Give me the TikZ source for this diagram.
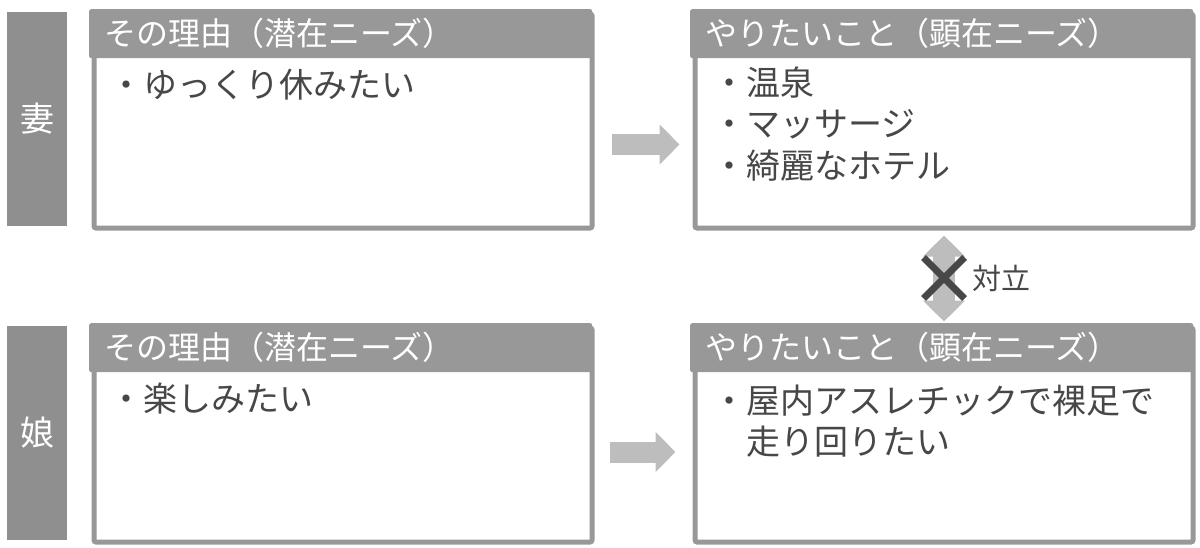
\documentclass[tikz,border=0pt]{standalone}
\usepackage{fontspec}
\setmainfont{Noto Sans CJK JP}
\usetikzlibrary{positioning, arrows.meta, shapes.misc, calc}
\definecolor{framegray}{HTML}{989898}
\definecolor{bargray}{HTML}{8F8F8F}
\definecolor{arrowgray}{HTML}{BDBDBD}
\definecolor{inkgray}{HTML}{474747}

\begin{document}
\begin{tikzpicture}[
    x=1pt, y=-1pt,
    panel/.style={draw=framegray, line width=5pt, fill=white, rounded corners=2pt,
        minimum width=498pt, minimum height=214pt, inner sep=0pt, anchor=north west},
    header/.style={fill=framegray, text=white, rounded corners=2pt, anchor=north west,
        minimum width=503pt, minimum height=49pt, inner xsep=15pt, inner ysep=0pt,
        text width=473pt, align=left, font=\fontsize{32}{38}\selectfont},
    needs/.style={anchor=base west, inner sep=0pt, text=inkgray, text width=470pt,
        align=left, font=\fontsize{34}{41.5}\selectfont},
    person/.style={fill=bargray, text=white, minimum width=60pt, minimum height=214pt,
        inner sep=0pt, font=\fontsize{34}{40}\selectfont},
    flow/.style={draw=arrowgray, line width=21pt, -{Triangle[length=20pt,width=39pt]}},
    clash/.style={draw=arrowgray, line width=22pt,
        {Triangle[length=21pt,width=41pt]}-{Triangle[length=21pt,width=41pt]}}
]
    \useasboundingbox (0,0) rectangle (1200,547);

    % Define nodes
    \node[person] (wife) at (37,119) {妻};
    \node[person] (daughter) at (37,433) {娘};

    \node[panel] (reasonW) at (91.5,11.5) {};
    \node[header] (reasonWHead) at (89,9) {その理由（潜在ニーズ）};
    \node[needs] (reasonWText) at (109,97) {・ゆっくり休みたい};

    \node[panel] (wantW) at (692.5,11.5) {};
    \node[header] (wantWHead) at (690,9) {やりたいこと（顕在ニーズ）};
    \node[needs] (wantWText) at (712,95) {・温泉\\・マッサージ\\・綺麗なホテル};

    \node[panel] (reasonD) at (91.5,325.5) {};
    \node[header] (reasonDHead) at (89,323) {その理由（潜在ニーズ）};
    \node[needs] (reasonDText) at (109,411) {・楽しみたい};

    \node[panel] (wantD) at (692.5,325.5) {};
    \node[header] (wantDHead) at (690,323) {やりたいこと（顕在ニーズ）};
    \node[needs] (wantDText) at (712,413) {・屋内アスレチックで裸足で\\\hspace*{1em}走り回りたい};

    % Arrows
    \draw[flow] ($(reasonW.east)+(17,23.5)$) -- ($(wantW.west)+(-13,23.5)$);
    \draw[flow] ($(reasonD.east)+(15,17)$) -- ($(wantD.west)+(-17,17)$);
    \draw[clash] ($(wantW.south)+(0,5)$) -- ($(wantD.north)+(0,-4)$);

    \node[cross out, draw=inkgray, line width=7pt, minimum size=34pt, inner sep=0pt]
        (conflict) at ($(wantW.south)!0.5!(wantD.north)$) {};
    \node[right=8pt of conflict, inner sep=0pt, text=inkgray,
        font=\fontsize{29}{34}\selectfont] (conflictLabel) {対立};
\end{tikzpicture}
\end{document}
